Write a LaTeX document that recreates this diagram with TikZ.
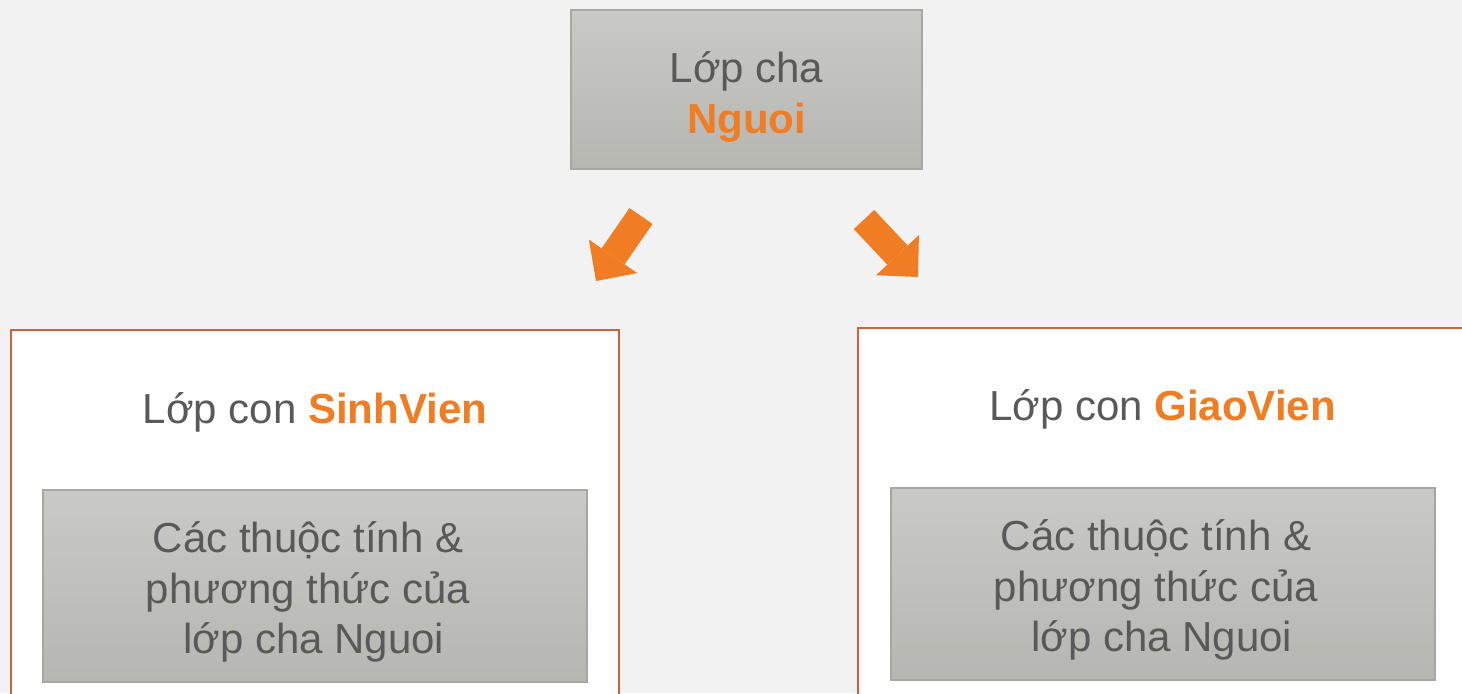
\documentclass[tikz,border=0pt]{standalone}
\usepackage{fontspec}
\setmainfont{Liberation Sans}
\usetikzlibrary{arrows.meta}
\definecolor{bgcol}{RGB}{242,242,242}
\definecolor{txtcol}{RGB}{89,89,89}
\definecolor{accent}{RGB}{240,125,35}
\definecolor{framecol}{RGB}{209,96,60}
\definecolor{boxtop}{RGB}{201,201,198}
\definecolor{boxbot}{RGB}{182,183,177}
\definecolor{boxline}{RGB}{166,167,160}
\tikzset{
graybox/.style 2 args={
  rectangle,
  draw=boxline,
  line width=1pt,
  top color=boxtop,
  bottom color=boxbot,
  minimum width=#1,
  minimum height=#2,
  inner sep=0pt
  },
classbox/.style 2 args={
  rectangle,
  draw=framecol,
  fill=white,
  line width=1.3pt,
  minimum width=#1,
  minimum height=#2,
  inner sep=0pt
  },
lbl/.style={
  text=txtcol,
  font=\fontsize{21}{25.2}\selectfont,
  align=center,
  inner sep=0pt
  },
inherit/.style={
  draw=accent,
  line width=14pt,
  -{Triangle[length=15pt,width=29.4pt,line width=0pt]}
  }
}
\newcommand{\hl}[1]{\textbf{\textcolor{accent}{#1}}}

\begin{document}
\begin{tikzpicture}[x=0.5pt,y=-0.5pt]
\useasboundingbox (0,0) rectangle (1462,693);
\clip (0,0) rectangle (1462,693);
\fill[bgcol] (0,0) rectangle (1462,693);

\node[graybox={175.5pt}{79.5pt}] (nguoi) at (746.5,89.5) {};
\node[lbl] (nguoi-txt) at (746.5,97) {Lớp cha\\ \hl{Nguoi}};

\node[classbox={304pt}{205pt}] (sv) at (315,535) {};
\node[lbl,anchor=base] (sv-title) at (315,423) {Lớp con \hl{SinhVien}};
\node[graybox={272pt}{96pt}] (sv-inner) at (315,586) {};
\node[lbl] (sv-txt) at (308,592) {Các thuộc tính \&\\ phương thức của\\ \ lớp cha Nguoi};

\node[classbox={311pt}{206pt}] (gv) at (1169,534) {};
\node[lbl,anchor=base] (gv-title) at (1162.5,420) {Lớp con \hl{GiaoVien}};
\node[graybox={272pt}{96pt}] (gv-inner) at (1163,584) {};
\node[lbl] (gv-txt) at (1156,590) {Các thuộc tính \&\\ phương thức của\\ \ lớp cha Nguoi};

\coordinate (sv-from) at (641,216);
\coordinate (sv-to) at (596,281);
\coordinate (gv-from) at (864,219.5);
\coordinate (gv-to) at (918,277);
\draw[inherit] (sv-from) -- (sv-to);
\draw[inherit] (gv-from) -- (gv-to);
\end{tikzpicture}
\end{document}
